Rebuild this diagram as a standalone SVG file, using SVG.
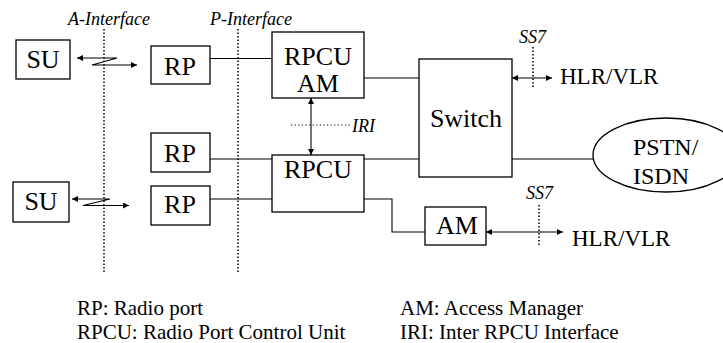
<svg xmlns="http://www.w3.org/2000/svg" width="723" height="343" viewBox="0 0 723 343">
<style>
.box{fill:#fff;stroke:#000;stroke-width:1.3}
text{fill:#000}
.t{font-size:26px}
.p{font-size:24px}
.h{font-size:23px}
.i{font-size:18px;font-style:italic}
.l{font-size:21px}
.c{fill:none;stroke:#000;stroke-width:1.1}
.d{fill:none;stroke:#000;stroke-width:1.5;stroke-dasharray:1.5 2}
.dt{fill:none;stroke:#000;stroke-width:1.2;stroke-dasharray:1.2 2.4}
</style>
<defs>
<marker id="ah" viewBox="0 0 10 10" refX="10" refY="5" markerWidth="8" markerHeight="6" markerUnits="userSpaceOnUse" orient="auto-start-reverse">
<path d="M0,0 L10,5 L0,10 z" fill="#000"/>
</marker>
</defs>
<g font-family="Liberation Serif, Tinos, Times New Roman, Times, Nimbus Roman, FreeSerif, Noto Serif, DejaVu Serif, serif">
<g id="interfaces">
<line class="d" x1="104" y1="29" x2="104" y2="272"/>
<line class="d" x1="238" y1="29" x2="238" y2="272"/>
<text class="i" x="68" y="25">A-Interface</text>
<text class="i" x="210" y="25">P-Interface</text>
</g>

<g id="connectors">
<line class="c" x1="210" y1="58.5" x2="272" y2="58.5"/>
<line class="c" x1="210" y1="159" x2="272" y2="159"/>
<line class="c" x1="210" y1="199" x2="272" y2="199"/>
<line class="c" x1="364" y1="78" x2="419" y2="78"/>
<line class="c" x1="364" y1="159" x2="419" y2="159"/>
<line class="c" x1="512" y1="159" x2="593" y2="159"/>
<polyline class="c" points="364,199 392,199 392,232 425,232"/>
<line class="c" x1="311" y1="98" x2="311" y2="155" marker-start="url(#ah)" marker-end="url(#ah)"/>
<line class="c" x1="512" y1="78" x2="552" y2="78" marker-start="url(#ah)" marker-end="url(#ah)"/>
<line class="c" x1="486" y1="232" x2="563" y2="232" marker-start="url(#ah)" marker-end="url(#ah)"/>
<polyline class="c" points="77,58 117,58 92,65 137,65" marker-start="url(#ah)" marker-end="url(#ah)"/>
<polyline class="c" points="72,199 110,199 83,205.5 129,205.5" marker-start="url(#ah)" marker-end="url(#ah)"/>
<line class="dt" x1="291" y1="125" x2="350" y2="125"/>
<line class="d" x1="533" y1="47" x2="533" y2="87"/>
<line class="d" x1="539" y1="205" x2="539" y2="247"/>
<text class="i" x="352" y="132">IRI</text>
<text class="i" x="519" y="43">SS7</text>
<text class="i" x="526" y="199">SS7</text>
</g>

<g id="su1"><rect class="box" x="16" y="40" width="54" height="39"/><text class="t" x="43" y="68" text-anchor="middle">SU</text></g>
<g id="su2"><rect class="box" x="13" y="182" width="56" height="40"/><text class="t" x="41" y="210" text-anchor="middle">SU</text></g>
<g id="rp1"><rect class="box" x="151" y="46" width="59" height="38"/><text class="t" x="180" y="75" text-anchor="middle">RP</text></g>
<g id="rp2"><rect class="box" x="151" y="133" width="59" height="39"/><text class="t" x="180" y="162" text-anchor="middle">RP</text></g>
<g id="rp3"><rect class="box" x="151" y="186" width="59" height="39"/><text class="t" x="180" y="213" text-anchor="middle">RP</text></g>
<g id="rpcu-am"><rect class="box" x="272" y="32" width="92" height="66"/><text class="t" x="318" y="65" text-anchor="middle">RPCU</text><text class="t" x="318" y="92" text-anchor="middle">AM</text></g>
<g id="rpcu"><rect class="box" x="272" y="155" width="92" height="57"/><text class="t" x="318" y="178" text-anchor="middle">RPCU</text></g>
<g id="switch"><rect class="box" x="419" y="59" width="93" height="118"/><text class="t" x="466" y="127" text-anchor="middle">Switch</text></g>
<g id="pstn"><ellipse class="box" cx="666" cy="155" rx="73" ry="37"/><text class="p" x="633" y="155">PSTN/</text><text class="p" x="633" y="184">ISDN</text></g>
<g id="am"><rect class="box" x="425" y="207" width="61" height="38"/><text class="t" x="457" y="234" text-anchor="middle">AM</text></g>
<g id="hlr1"><text class="h" x="560" y="84">HLR/VLR</text></g>
<g id="hlr2"><text class="h" x="572" y="246">HLR/VLR</text></g>

<g id="legend">
<text class="l" x="77" y="315">RP: Radio port</text>
<text class="l" x="77" y="339">RPCU: Radio Port Control Unit</text>
<text class="l" x="400" y="315">AM: Access Manager</text>
<text class="l" x="400" y="339">IRI: Inter RPCU Interface</text>
</g>
</g>
</svg>
